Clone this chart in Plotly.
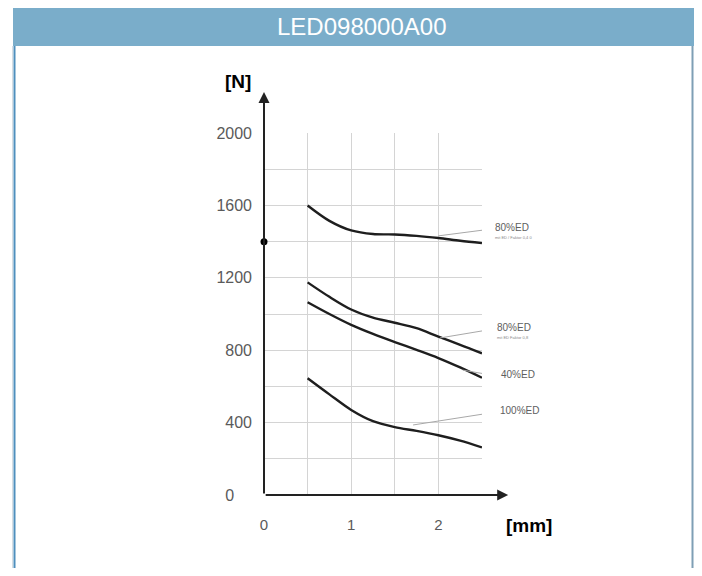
import plotly.graph_objects as go

# ---- data ----
title_text = "LED098000A00"
x_vals = [0.5, 0.75, 1.0, 1.25, 1.5, 1.75, 2.0, 2.25, 2.5]
ed80_top = [1600, 1515, 1462, 1442, 1440, 1432, 1420, 1405, 1392]
ed80_mid = [1175, 1095, 1025, 980, 952, 922, 875, 830, 783]
ed40 = [1065, 1000, 940, 890, 845, 802, 757, 705, 648]
ed100 = [645, 556, 470, 408, 375, 354, 330, 300, 263]
series = [ed80_top, ed80_mid, ed40, ed100]

y_ticks = [0, 400, 800, 1200, 1600, 2000]
y_ticktext = ["0\u00a0\u00a0\u00a0\u00a0", "400", "800", "1200", "1600", "2000"]
x_ticks = [0, 1, 2]
x_ticktext = ["0", "1", "2"]
x_range = [0, 2.5]
y_range = [0, 2000]
marker_point = (0, 1400)

# label text, sub text, leader start (x, y), leader end (x, y)
labels = [
    ("80%ED", "mit ED / Faktor 0,4 0", (2.0, 1432), (2.61, 1470)),
    ("80%ED", "mit ED Faktor 0,8", (2.02, 868), (2.63, 917)),
    ("40%ED", "", (2.28, 690), (2.68, 657)),
    ("100%ED", "", (1.71, 387), (2.67, 459)),
]

fig = go.Figure()

for s in series:
    fig.add_trace(go.Scatter(
        x=x_vals, y=s, mode="lines",
        line=dict(color="#1e1e1e", width=2.4, shape="spline", smoothing=0.9),
        hoverinfo="skip", showlegend=False,
    ))

fig.add_trace(go.Scatter(
    x=[marker_point[0]], y=[marker_point[1]], mode="markers",
    marker=dict(color="#000000", size=7), cliponaxis=False,
    hoverinfo="skip", showlegend=False,
))

shapes = []
annotations = []

# header band and panel borders
shapes.append(dict(type="rect", xref="paper", yref="paper",
                   x0=(13-264)/218, x1=(696-264)/218, y0=(495-46)/362, y1=(495-7)/362,
                   fillcolor="#7aadca", line=dict(width=0), layer="below"))
shapes.append(dict(type="line", xref="paper", yref="paper",
                   x0=(12.5-264)/218, x1=(12.5-264)/218, y0=-90/362, y1=(495-46)/362,
                   line=dict(color="#d6dde3", width=1)))
shapes.append(dict(type="line", xref="paper", yref="paper",
                   x0=(14.5-264)/218, x1=(14.5-264)/218, y0=-90/362, y1=(495-46)/362,
                   line=dict(color="#4f8fbd", width=2)))
shapes.append(dict(type="line", xref="paper", yref="paper",
                   x0=(692.5-264)/218, x1=(692.5-264)/218, y0=-90/362, y1=(495-46)/362,
                   line=dict(color="#7f9fb5", width=2)))

annotations.append(dict(text=title_text, xref="paper", yref="paper",
                        x=(361-264)/218, y=(495-27)/362, showarrow=False,
                        xanchor="center", yanchor="middle",
                        font=dict(family="Liberation Sans, Arial", size=24, color="#ffffff")))

# axis arrows
annotations.append(dict(text="", xref="x domain", yref="y domain", x=1.12, y=0,
                        ax=-244, ay=0, axref="pixel", ayref="pixel", showarrow=True,
                        arrowhead=2, arrowsize=1.1, arrowwidth=2, arrowcolor="#222222"))
annotations.append(dict(text="", xref="x domain", yref="y domain", x=0, y=1.113,
                        ax=0, ay=403, axref="pixel", ayref="pixel", showarrow=True,
                        arrowhead=2, arrowsize=1.1, arrowwidth=2, arrowcolor="#222222"))

# axis titles
annotations.append(dict(text="<b>[N]</b>", xref="x domain", yref="y domain",
                        x=-0.119, y=1.141, showarrow=False, xanchor="center", yanchor="middle",
                        font=dict(family="Liberation Sans, Arial", size=19, color="#000000")))
annotations.append(dict(text="<b>[mm]</b>", xref="x domain", yref="y domain",
                        x=1.216, y=-0.083, showarrow=False, xanchor="center", yanchor="middle",
                        font=dict(family="Liberation Sans, Arial", size=19, color="#000000")))


def dom_x(v):
    return (v - x_range[0]) / (x_range[1] - x_range[0])


def dom_y(v):
    return (v - y_range[0]) / (y_range[1] - y_range[0])


# curve labels with leader lines
for name, sub, (x0, y0), (x1, y1) in labels:
    shapes.append(dict(type="line", xref="x", yref="y", x0=x0, y0=y0, x1=x1, y1=y1,
                       line=dict(color="#a8a8a8", width=1)))
    annotations.append(dict(text=name, xref="x domain", yref="y domain",
                            x=dom_x(x1 + 0.015), y=dom_y(y1 + 8),
                            xanchor="left", yanchor="middle", showarrow=False,
                            font=dict(family="Liberation Sans, Arial", size=10, color="#5e5e5e")))
    if sub:
        annotations.append(dict(text=sub, xref="x domain", yref="y domain",
                                x=dom_x(x1 + 0.015), y=dom_y(y1 - 45),
                                xanchor="left", yanchor="middle", showarrow=False,
                                font=dict(family="Liberation Sans, Arial", size=4, color="#888888")))

fig.update_layout(
    width=686, height=560,
    margin=dict(l=256, r=212, t=125, b=73),
    paper_bgcolor="#ffffff", plot_bgcolor="#ffffff",
    shapes=shapes, annotations=annotations,
    font=dict(family="Liberation Sans, Arial", size=16, color="#5a5a5a"),
    xaxis=dict(range=[x_range[0], x_range[1] + 0.0005], tickvals=x_ticks,
               ticktext=x_ticktext,
               showgrid=False, zeroline=False, showline=False,
               ticks="", ticklabelstandoff=19,
               minor=dict(dtick=0.5, tick0=0, showgrid=True, gridcolor="#d4d4d4", gridwidth=1),
               tickfont=dict(size=15, color="#5a5a5a")),
    yaxis=dict(range=[y_range[0], y_range[1] + 0.5], tickvals=y_ticks,
               ticktext=y_ticktext,
               showgrid=True, gridcolor="#d4d4d4", gridwidth=1,
               zeroline=False, showline=False, ticks="", ticklabelstandoff=11,
               minor=dict(dtick=200, tick0=0, showgrid=True, gridcolor="#d4d4d4", gridwidth=1),
               tickfont=dict(size=16, color="#5a5a5a")),
)

fig.write_html("out.html")
